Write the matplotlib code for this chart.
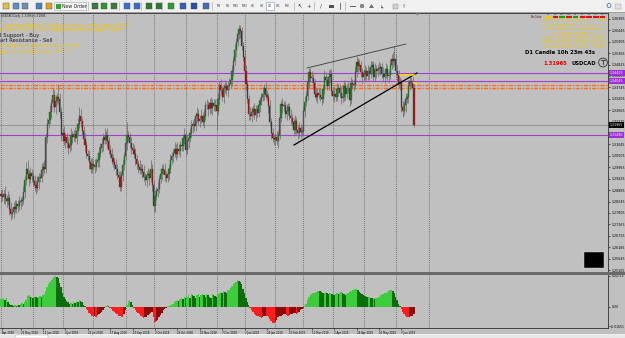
import numpy as np
import matplotlib
matplotlib.use('Agg')
import matplotlib.pyplot as plt
from matplotlib.patches import Rectangle, Circle, Polygon

# ---------------- data ----------------
# USDCAD daily closes, in units of 0.0001 above 1.0000
close_2018_05 = [2862, 2855, 2870, 2845, 2838, 2852, 2800, 2775, 2785, 2810, 2798, 2822, 2815, 2830, 2835, 2842, 2880, 2935, 2990, 2965, 2940, 2970, 2955]
close_2018_06 = [2930, 2915, 2900, 2925, 2950, 2945, 2985, 3000, 2990, 3140, 3200, 3220, 3260, 3300, 3340, 3280, 3310, 3330, 3320, 3260, 3150]
close_2018_07 = [3160, 3120, 3140, 3110, 3090, 3100, 3150, 3140, 3155, 3135, 3170, 3200, 3240, 3215, 3170, 3130, 3100, 3060, 3050, 3020, 2990, 3010]
close_2018_08 = [3005, 3000, 3020, 3030, 3065, 3090, 3105, 3140, 3125, 3150, 3120, 3080, 3060, 3040, 3020, 3005, 2990, 2960, 2950, 2905, 2960, 3005, 3050]
close_2018_09 = [3110, 3150, 3140, 3110, 3090, 3080, 3060, 3035, 3010, 3000, 2985, 2990, 2975, 2950, 2935, 2960, 2965, 2945, 2990, 2915]
close_2018_10 = [2815, 2860, 2885, 2895, 2940, 2965, 2990, 2985, 2960, 2945, 2965, 2990, 3030, 3050, 3065, 3085, 3060, 3085, 3075, 3100, 3095, 3135, 3150]
close_2018_11 = [3080, 3120, 3135, 3160, 3190, 3200, 3190, 3240, 3250, 3215, 3225, 3240, 3210, 3240, 3290, 3290, 3270, 3300, 3275, 3300, 3285, 3290]
close_2018_12 = [3265, 3320, 3385, 3360, 3330, 3370, 3380, 3360, 3380, 3390, 3410, 3450, 3500, 3550, 3590, 3625, 3650, 3640, 3570, 3520]
close_2019_01 = [3450, 3390, 3320, 3250, 3240, 3260, 3270, 3245, 3270, 3255, 3290, 3310, 3330, 3345, 3370, 3340, 3330, 3285, 3210, 3160, 3135, 3130]
close_2019_02 = [3140, 3120, 3150, 3230, 3295, 3285, 3290, 3250, 3265, 3280, 3240, 3230, 3210, 3175, 3215, 3175, 3160, 3180, 3165, 3170]
close_2019_03 = [3265, 3305, 3335, 3400, 3445, 3420, 3420, 3395, 3345, 3330, 3350, 3340, 3330, 3320, 3365, 3425, 3410, 3380, 3425, 3440, 3355]
close_2019_04 = [3335, 3345, 3330, 3365, 3370, 3350, 3325, 3330, 3380, 3345, 3370, 3370, 3315, 3395, 3390, 3385, 3445, 3495, 3475, 3480, 3445, 3425]
close_2019_05 = [3440, 3450, 3430, 3450, 3440, 3470, 3480, 3425, 3460, 3450, 3460, 3465, 3470, 3440, 3425, 3440, 3460, 3430, 3435, 3480, 3510, 3500, 3510]
close_2019_06 = [3450, 3435, 3390, 3395, 3280, 3265, 3290, 3320, 3330, 3380, 3405, 3395, 3370, 3196.5]
first_open = 2870

# wick lengths beyond the body, in units of 10 pips
wick_up = ([2,3,2,4,2,3,2,3,2,2,3,2,2,3,2,2,3,2,3,4,2,3,2] +
           [2,3,2,3,2,2,3,2,3,2,3,2,3,2,3,2,3,2,6,3,2] +
           [2,3,2,2,3,2,3,2,2,3,2,3,4,3,2,2,3,2,2,3,2,3] +
           [2,3,2,2,3,2,3,2,4,2,3,2,2,3,2,2,3,2,2,3,2,3,2] +
           [3,6,2,2,3,2,2,3,2,2,3,2,2,3,2,2,3,2,4,2] +
           [2,3,2,3,2,3,2,2,3,2,3,2,3,2,2,3,2,3,2,2,3,2,3] +
           [2,3,2,2,3,2,3,2,3,2,2,3,2,3,2,3,2,2,3,2,2,3] +
           [2,3,2,3,2,2,3,2,2,3,2,3,2,3,2,2,2,2,2,2] +
           [3,3,2,2,3,2,2,3,2,2,3,2,2,3,2,3,2,2,3,2,2,2] +
           [2,3,2,3,2,3,2,2,3,2,2,3,2,2,3,2,2,3,2,2] +
           [2,3,2,3,2,2,3,2,2,3,2,2,3,2,2,3,2,2,3,2,2] +
           [2,3,2,3,2,2,3,2,3,2,2,3,2,3,2,2,3,3,2,3,2,2] +
           [2,3,2,3,2,3,2,2,3,2,2,3,2,2,3,2,3,2,2,3,2,3,6] +
           [2,3,2,3,2,3,2,3,2,3,3,2,3,2])
wick_dn = ([3,2,3,2,3,2,3,3,2,3,2,2,3,2,3,2,2,3,2,2,3,2,3] +
           [2,3,3,2,3,2,2,3,2,2,3,2,2,3,2,2,3,2,2,3,3] +
           [3,2,3,2,3,2,2,3,2,2,3,2,2,3,2,2,3,2,2,3,2,2] +
           [2,3,2,2,3,2,2,3,2,2,3,2,2,3,2,2,3,2,3,2,2,3,2] +
           [2,3,2,2,3,2,2,3,2,3,2,2,3,2,2,3,2,3,2,3] +
           [3,3,2,3,2,2,3,2,3,2,2,3,2,2,3,2,3,2,2,3,2,2,3] +
           [3,2,3,2,2,3,2,2,3,2,3,2,2,3,2,2,3,2,2,3,2,2] +
           [9,2,3,2,2,3,2,2,3,2,2,3,2,2,3,2,2,3,2,2] +
           [3,3,2,3,2,3,2,2,3,2,2,3,2,2,3,2,2,3,2,3,2,3] +
           [3,2,3,2,2,3,2,2,3,2,2,3,2,3,2,2,3,2,3,2] +
           [2,3,2,2,3,2,2,3,2,2,3,2,2,3,2,2,3,2,2,3,2] +
           [2,3,2,2,3,2,3,2,2,3,2,2,3,2,2,3,2,2,3,2,2,3] +
           [2,3,2,2,3,2,3,2,2,3,2,2,3,2,2,3,2,2,3,2,2,3,2] +
           [2,3,2,3,2,3,2,3,2,3,2,2,3,1])

# oscillator histogram (sub window), units of 0.001
osc = ([6.5, 7.0, 7.5, 6.0, 7.5, 4.5, 3.0] + [2.0, 1.5, 1.0, 1.5, 1.0, 2.0, 1.5] + [2.5, 3.5, 3.0, 4.0, 6.0] +
       [9.5, 10.0, 8.5, 9.0, 8.0, 9.0, 8.5, 8.0, 9.0, 9.5, 9.0, 10.0, 11.5] + [14.0, 17.0, 20.0, 22.0, 23.0, 24.5] +
       [26.0, 26.5, 26.0, 25.0, 21.0, 17.0] + [12.0, 9.0, 7.0, 5.0] + [4.0, 3.0, 3.5, 2.5, 4.0, 3.5, 5.0, 4.5] +
       [6.0, 5.5, 4.0, 2.0, 0.5] +
       [-1.5, -3.0, -5.0, -6.5, -7.5, -8.5, -8.0, -8.7, -7.0, -6.0, -5.5, -4.0, -2.5, -1.0] + [0.5, 1.5, 0.8, -0.5] +
       [-2.0, -3.5, -4.5, -5.5, -6.0, -7.5, -8.0, -8.5, -8.7, -6.0, -3.0] + [2.0, 5.0, 6.0, 4.5, 1.5] +
       [-1.0, -3.0, -4.5, -5.5, -6.5, -7.5, -9.0, -9.5, -9.0, -8.5, -7.0, -6.5, -5.0, -4.0] +
       [-9.0, -13.0, -12.5, -11.0, -9.0, -7.0, -5.0, -3.0, -1.5, -0.5] + [0.5, 0.8, 1.5, 2.0] +
       [3.0, 4.5, 5.5, 6.0, 5.0, 7.0, 8.0, 6.5, 8.5, 7.5, 9.0, 10.0, 8.0, 11.0, 10.5, 9.5, 8.0, 10.0, 11.0, 9.0, 10.5] +
       [11.0, 10.0, 9.0, 11.5, 10.5, 9.0, 8.0, 11.0, 10.0, 9.5, 8.5, 11.0] +
       [12.0, 13.0, 12.5, 14.0, 13.0, 12.0, 14.5, 15.0, 16.5, 18.0, 19.5, 21.0] +
       [22.0, 23.0, 22.5, 22.0, 20.0, 16.0, 12.0, 8.0, 4.0, 1.5] +
       [-1.0, -3.0, -4.5, -6.0, -7.0, -7.5, -8.0, -9.0, -9.5, -9.0, -8.0, -7.5, -8.0, -9.0, -10.5, -12.0, -13.5, -14.0, -13.0, -11.0, -9.0, -8.0, -7.5] +
       [-7.0, -6.5, -6.0, -7.0, -7.5, -7.0, -6.5, -6.0, -5.5, -5.0, -6.0, -5.5, -4.0, -3.0, -2.0, -1.0, 1.0, 3.0] +
       [6.0, 8.5, 10.0, 11.0, 12.0, 12.5, 13.0, 13.5, 14.0, 13.5, 13.0, 12.0, 12.5, 13.0, 12.0, 11.0, 12.5] +
       [11.5, 11.0, 10.0, 11.0, 12.0, 11.5, 12.5, 13.0, 12.0, 11.0, 10.5, 11.5, 12.5, 13.0, 14.0, 14.5, 15.0, 15.5, 16.0, 15.0, 13.0, 12.0, 11.0] +
       [10.0, 9.5, 9.0, 8.5, 9.0, 8.0, 7.5, 8.0, 7.0, 7.5, 8.0, 9.0, 10.0, 10.5, 11.0, 12.0, 12.5, 13.0, 14.0, 14.5, 15.0, 14.0, 12.0] +
       [9.0, 6.0, 3.0, 0.5, -2.0, -4.5, -6.0, -7.5, -8.5, -8.7, -8.5, -8.0, -7.5, -6.0])

month_start_idx = [0, 23, 44, 66, 89, 109, 132, 154, 174, 196, 216, 237, 259, 282, 306]
date_idx = [0.7, 14, 30, 46, 62, 78, 94, 110, 126, 142, 158, 174, 190, 206, 222, 238, 254, 270, 286]
date_labels = ['Apr 2018', '22 May 2018', '12 Jun 2018', '4 Jul 2018', '26 Jul 2018', '17 Aug 2018',
               '10 Sep 2018', '2 Oct 2018', '24 Oct 2018', '15 Nov 2018', '7 Dec 2018', '2 Jan 2019',
               '24 Jan 2019', '15 Feb 2019', '11 Mar 2019', '2 Apr 2019', '24 Apr 2019', '16 May 2019', '7 Jun 2019']
price_ticks = [1.25105, 1.25645, 1.26185, 1.26725, 1.27265, 1.27805, 1.28345, 1.28885, 1.29425, 1.29965,
               1.30505, 1.31045, 1.31585, 1.32125, 1.32665, 1.33205, 1.33745, 1.34285, 1.34825, 1.35365,
               1.35905, 1.36445, 1.36985]
osc_ticks = [27.147, 0.0, -16.513]
osc_tick_labels = ['0.02715', '0.00', '-0.01651']
purple_levels = [1.34425, 1.34045, 1.31490]
orange_levels = [1.33860, 1.33715]
bid_price = 1.31965
wedge_upper_x, wedge_upper_y = [218.6, 289.3], [1.34661, 1.35796]
wedge_lower_x, wedge_lower_y = [209.3, 297.1], [1.31019, 1.34425]
yellow_marks = [(284.5, 295.5, 1.34330), (294.5, 297.5, 1.33955)]

# ---------------- figure ----------------
W, H = 625, 338
BG = '#c0c0c0'
fig = plt.figure(figsize=(W / 100, H / 100), dpi=100)
fig.patch.set_facecolor('#f0f0f0')


def rect(l, t, r, b):
    return [l / W, 1 - b / H, (r - l) / W, (b - t) / H]


under = fig.add_axes([0, 0, 1, 1], zorder=0)
under.set_xlim(0, W); under.set_ylim(H, 0); under.axis('off')
under.add_patch(Rectangle((0, 12), W, 322, fc=BG, ec='none'))

XL = (-0.71, 433.6)
ax = fig.add_axes(rect(0, 12.5, 608, 272), zorder=2)
sub = fig.add_axes(rect(0, 275, 608, 328), zorder=2)

# ---- candles ----
c = 1 + np.array(close_2018_05 + close_2018_06 + close_2018_07 + close_2018_08 + close_2018_09 +
                 close_2018_10 + close_2018_11 + close_2018_12 + close_2019_01 + close_2019_02 +
                 close_2019_03 + close_2019_04 + close_2019_05 + close_2019_06) / 10000.0
o = np.r_[1 + first_open / 10000.0, c[:-1]]
n = len(c)
hi = np.maximum(o, c) + np.array(wick_up[:n]) * 0.001
lo = np.minimum(o, c) - np.array(wick_dn[:n]) * 0.001
idx = np.arange(n)

ax.set_facecolor(BG)
ax.set_xlim(*XL)
ax.set_ylim(1.25012, 1.37286)
for m in month_start_idx:
    ax.axvline(m, color='#4a4a4a', lw=0.5, ls=(0, (1.2, 1.6)), zorder=1)
    sub.axvline(m, color='#4a4a4a', lw=0.5, ls=(0, (1.2, 1.6)), zorder=1)

for lv in purple_levels:
    ax.axhline(lv, color='#a040d0', lw=0.8, zorder=2)
for lv in orange_levels:
    ax.axhline(lv, color='#ff6a1a', lw=1.0, ls=(0, (3, 1, 1, 1)), zorder=2)
ax.axhline(bid_price, color='#8e8e8e', lw=0.6, zorder=2)

ax.vlines(idx, lo, hi, color='#6e6e6e', lw=0.55, zorder=3)
body = np.maximum(np.abs(c - o), 0.00018)
bull = c >= o
ax.bar(idx[bull], body[bull], bottom=np.minimum(o, c)[bull], width=0.8,
       color='#1f8a1f', edgecolor='#2a2a2a', lw=0.2, zorder=4)
ax.bar(idx[~bull], body[~bull], bottom=np.minimum(o, c)[~bull], width=0.8,
       color='#b01515', edgecolor='#2a2a2a', lw=0.2, zorder=4)

ax.plot(wedge_upper_x, wedge_upper_y, color='#3a3a3a', lw=0.6, zorder=5)
ax.plot(wedge_lower_x, wedge_lower_y, color='#000000', lw=0.9, zorder=5)
for x0, x1, yv in yellow_marks:
    ax.plot([x0, x1], [yv, yv], color='#ffd800', lw=1.1, zorder=5, solid_capstyle='butt')

ax.set_xticks([])
ax.yaxis.tick_right()
ax.set_yticks(price_ticks)
ax.set_yticklabels([f'{v:.5f}' for v in price_ticks])
ax.tick_params(axis='y', length=1.6, width=0.4, pad=0.8, labelsize=2.3, colors='#000000')
for s in ['left', 'bottom']:
    ax.spines[s].set_visible(False)
for s in ['right', 'top']:
    ax.spines[s].set_linewidth(0.6); ax.spines[s].set_color('#303030')

ytr = ax.get_yaxis_transform()
for lv in purple_levels:
    ax.text(1.0035, lv, f'{lv:.5f}', transform=ytr, fontsize=2.3, color='white', va='center', ha='left',
            bbox=dict(boxstyle='square,pad=0.25', fc='#9b30d8', ec='none'), clip_on=False, zorder=10)
ax.text(1.0035, bid_price, f'{bid_price:.5f}', transform=ytr, fontsize=2.3, color='white', va='center', ha='left',
        bbox=dict(boxstyle='square,pad=0.25', fc='#000000', ec='none'), clip_on=False, zorder=10)

# ---- oscillator ----
cols = []
for i, v in enumerate(osc):
    prev = osc[i - 1] if i else 0.0
    if v >= 0:
        cols.append('#3ccc3c' if v >= prev else '#0b6e0b')
    else:
        cols.append('#ff1c1c' if v <= prev else '#8c0a0a')
sub.set_facecolor(BG)
sub.bar(np.arange(len(osc)), osc, width=1.0, color=cols, linewidth=0, zorder=3)
sub.set_xlim(*XL)
sub.set_ylim(-18.2, 27.7)
sub.yaxis.tick_right()
sub.set_yticks(osc_ticks)
sub.set_yticklabels(osc_tick_labels)
sub.set_xticks(date_idx)
sub.set_xticklabels(date_labels)
for lbl in sub.get_xticklabels():
    lbl.set_ha('left')
sub.tick_params(axis='y', length=1.6, width=0.4, pad=0.8, labelsize=2.2, colors='#000000')
sub.tick_params(axis='x', length=1.6, width=0.4, pad=0.6, labelsize=1.9, colors='#000000')
for s in ['left', 'top']:
    sub.spines[s].set_visible(False)
for s in ['right', 'bottom']:
    sub.spines[s].set_linewidth(0.6); sub.spines[s].set_color('#303030')

# ---------------- overlay (window chrome & comments) ----------------
ov = fig.add_axes([0, 0, 1, 1], zorder=6)
ov.set_xlim(0, W); ov.set_ylim(H, 0); ov.axis('off')

# toolbar
ov.add_patch(Rectangle((0, 0), W, 11.5, fc='#f0f0f0', ec='none'))
ov.plot([0, W], [11.6, 11.6], color='#9a9a9a', lw=0.6)
icons = [(3, '#e8c040'), (13, '#5a8fd0'), (22, '#7090b0'), (36, '#4a7fc0'), (46, '#e0a020'),
         (92, '#3a7a3a'), (101, '#2a9a2a'), (111, '#3a7a3a'), (124, '#3a6fd0'), (134, '#3a6fd0'),
         (146, '#2a7a2a'), (156, '#2a7a2a'), (168, '#2aa02a'), (180, '#3060c0'), (191, '#2050b0'),
         (203, '#4070c0')]
for xi, col in icons:
    ov.add_patch(Rectangle((xi, 3), 5.5, 5.5, fc=col, ec='#505050', lw=0.3))
ov.add_patch(Rectangle((54, 2), 32, 8, fc='#f6f6f6', ec='#a0a0a0', lw=0.4))
ov.add_patch(Rectangle((56, 3.5), 4.5, 5, fc='#30a030', ec='none'))
ov.text(62, 6.2, 'New Order', fontsize=3.3, va='center', ha='left', color='#202020')
for sx in [88, 119, 141, 162, 212, 294, 314, 345]:
    ov.plot([sx, sx], [2, 10], color='#b0b0b0', lw=0.5)
for k, p in enumerate(['M1', 'M5', 'M15', 'M30', 'H1', 'H4', 'D1', 'W1', 'MN']):
    xx = 216 + k * 8.5
    if p == 'D1':
        ov.add_patch(Rectangle((xx - 0.8, 2), 8, 8, fc='#ffffff', ec='#8090b0', lw=0.4))
    ov.text(xx + 3.2, 6.2, p, fontsize=2.1, va='center', ha='center', color='#404040')
ov.text(300, 6.3, '\u2196', fontsize=4, va='center', ha='center', color='#202020')
ov.text(309, 6.3, '+', fontsize=4, va='center', ha='center', color='#404040')
ov.text(321, 6.3, '/', fontsize=4, va='center', ha='center', color='#404040')
ov.add_patch(Rectangle((329, 4.5), 5, 3, fc='#505050', ec='none'))
ov.plot([340, 340], [3, 9], color='#404040', lw=0.5)
ov.plot([350, 355], [6, 6], color='#404040', lw=0.6)
ov.add_patch(Circle((362, 6), 1.8, fc='#909090', ec='#404040', lw=0.3))
ov.add_patch(Polygon([(369, 8), (371.5, 4), (374, 8)], fc='#707070', ec='none'))
ov.text(382, 6.3, '\u21B3', fontsize=3.5, va='center', ha='center', color='#404040')
ov.add_patch(Rectangle((393, 3.5), 5, 5, fc='#d0d0d0', ec='#909090', lw=0.3))
ov.text(404, 6.3, '\u2191', fontsize=3.5, va='center', ha='center', color='#606060')
ov.add_patch(Circle((609, 5.5), 2, fc='none', ec='#3060c0', lw=0.5))
ov.add_patch(Rectangle((615, 3.5), 6, 5, fc='#e0e0e0', ec='#909090', lw=0.3))

# chart-shift marker
ov.add_patch(Polygon([(415.5, 13), (419.5, 13), (417.5, 15.5)], fc='#707070', ec='none'))

# separator between main chart and sub window
ov.add_patch(Rectangle((0, 272.3), W, 2.4, fc='#6a6a6a', ec='none'))

# bottom tab strip
ov.add_patch(Rectangle((0, 334.5), W, 3.5, fc='#e8e8e8', ec='none'))
ov.add_patch(Rectangle((15, 334.5), 33, 3.5, fc='#ffffff', ec='#a0a0a0', lw=0.3))

# top-left comments
ov.text(1, 15.5, 'USDCAD,Daily  1.31962 1.31985', fontsize=2.0, color='#202020', va='center', ha='left')
yel = '#f2c400'
comments = [('Trendline Break, Pastikan harga melampaui MA 8', yel, 25.0),
            ('o watchlist 2, Fibo Retracement sebagai Acuan', yel, 30.0),
            ('l Support - Buy', '#1a1a1a', 35.0),
            ('art Resistance - Sell', '#1a1a1a', 40.0),
            ('a berada di mid ma 8 Low ma', yel, 45.5),
            ('gan lupa Stop Loss.. RR 1:2', yel, 51.0)]
for txt, col, yy in comments:
    ov.text(0.5, yy, txt, fontsize=3.8, color=col, va='center', ha='left', family='DejaVu Sans')

# top-right panel
ov.text(531, 17, 'BarColor', fontsize=2.0, color='#6a1010', va='center', ha='left')
bar_cols = ['#f0d000', '#e01010', '#10a010', '#e01010', '#10a010', '#e01010', '#e01010', '#e01010', '#e01010']
for k, (lab, col) in enumerate(zip(['M1', 'M5', 'M15', 'M30', 'H1', 'H4', 'D1', 'W1', 'MN'], bar_cols)):
    xx = 546 + k * 6.7
    ov.text(xx + 2.8, 14.3, lab, fontsize=1.5, color='#303030', va='center', ha='center')
    ov.add_patch(Rectangle((xx, 16.2), 5.6, 1.8, fc=col, ec='none'))
right_lines = ['[!] Modified Magic Filters [!] (c) 2016',
               '=== Berita, Analisa, Tips Forex ===',
               '= PCOLUMA dan Bukanlah Melayu =',
               '=== di WWW.BITRADAY.MY ===',
               'USDJPY  AUDUSD  GBPUSD  EURUSD',
               'GBPJPY  AUDUSD  NZDUSD  USDCAD',
               'USDCAD  AUDJPY  EURJPY  EURGBP']
for k, t in enumerate(right_lines):
    ov.text(606, 20.5 + k * 4.4, t, fontsize=2.5, color=yel, va='center', ha='right')
ov.text(595, 52.7, 'D1 Candle 10h 23m 43s', fontsize=3.8, fontweight='bold', color='#000000',
        va='center', ha='right')
ov.text(567, 63.5, '1.31965', fontsize=3.7, fontweight='bold', color='#e00000', va='center', ha='right')
ov.text(571.5, 63.5, 'USDCAD', fontsize=3.8, fontweight='bold', color='#000000', va='center', ha='left')
ov.add_patch(Circle((603, 62.5), 4.4, fc='none', ec='#303030', lw=0.6))
ov.plot([603, 603], [59.7, 64.3], color='#303030', lw=0.6)
ov.plot([601, 605], [59.8, 59.8], color='#303030', lw=0.6)

# black box bottom right
ov.add_patch(Rectangle((584, 252), 20, 16, fc='#000000', ec='#e0e0e0', lw=0.3))

fig.savefig('out.png', dpi=100, facecolor=fig.get_facecolor())
